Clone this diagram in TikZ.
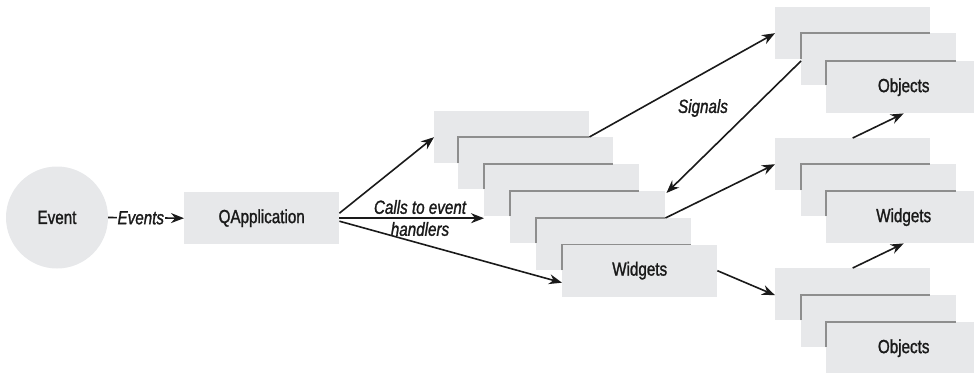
\documentclass[tikz,border=0pt]{standalone}
\usepackage{fontspec}
\setmainfont{Liberation Sans}[FakeStretch=0.8,FakeBold=1.3]
\usetikzlibrary{arrows.meta,calc}
\definecolor{boxgray}{HTML}{E7E8EA}
\definecolor{edgegray}{HTML}{8E8E8E}
\definecolor{ink}{HTML}{1A1A1A}
\begin{document}
\begin{tikzpicture}[x=1pt,y=-1pt,
  card/.style={fill=boxgray,draw=none,minimum width=155pt,minimum height=52pt,
    anchor=north west,inner sep=0pt,font=\fontsize{19}{22}\selectfont,text=ink},
  edgeline/.style={draw=edgegray,line width=1.3pt},
  conn/.style={draw=ink,line width=1.6pt,-{Stealth[length=13pt,width=10pt]}},
  lbl/.style={font=\fontsize{19}{22}\selectfont\itshape,text=ink,inner sep=1pt}
]
\useasboundingbox (0,0) rectangle (974,372);
\clip (0,0) rectangle (974,372);

% event circle and QApplication
\node[circle,fill=boxgray,minimum size=102pt,inner sep=0pt,
  font=\fontsize{19}{22}\selectfont,text=ink] (ev) at (57,217.5) {Event};
\node[card,minimum height=52pt] (q) at (184,192) {QApplication};

% middle stack
\node[card] (m1) at (434,111) {};
\node[card] (m2) at (458,137) {};
\node[card] (m3) at (484,164) {};
\node[card] (m4) at (510,191) {};
\node[card] (m5) at (536,218) {};
\node[card] (m6) at (562,244.5) {Widgets};
\foreach \a/\b in {m1/m2,m2/m3,m3/m4,m4/m5,m5/m6}
  \draw[edgeline] (\b.west |- \a.south) -- (\b.north west) -- (\a.east |- \b.north);

% top stack
\node[card] (a1) at (775,7) {};
\node[card] (a2) at (801,33) {};
\node[card] (a3) at (826,61) {Objects};
% middle right stack
\node[card] (b1) at (775,138) {};
\node[card] (b2) at (801,164) {};
\node[card] (b3) at (826,191) {Widgets};
% bottom stack
\node[card] (c1) at (775,268) {};
\node[card] (c2) at (801,295) {};
\node[card] (c3) at (826,322) {Objects};
\foreach \a/\b in {a1/a2,a2/a3,b1/b2,b2/b3,c1/c2,c2/c3}
  \draw[edgeline] (\b.west |- \a.south) -- (\b.north west) -- (\a.east |- \b.north);

% connectors
\draw[conn] (ev.east) -- node[lbl,fill=white,pos=0.43] {Events} (q.west);
\draw[conn] ([yshift=5pt]q.east) -- (m1.west);
\draw[conn] (q.east) -- (q.east -| m3.west);
\node[lbl,align=center] (calls) at (420,218) {Calls to event\\handlers};
\draw[conn] ([yshift=-3pt]q.east) -- ([yshift=-12pt]m6.west);
\draw[conn] (m1.east |- m2.north) -- (a1.west);
\draw[conn] (a2.west |- a3.north) -- ([xshift=1pt,yshift=-2pt]m4.north east);
\node[lbl] (sig) at (703,108) {Signals};
\draw[conn] (m4.east |- m5.north) -- (b1.west);
\draw[conn] (b1.north) -- (a3.south);
\draw[conn] (m6.east) -- ([yshift=-1pt]c1.west);
\draw[conn] (c1.north) -- (b3.south);
\end{tikzpicture}
\end{document}
